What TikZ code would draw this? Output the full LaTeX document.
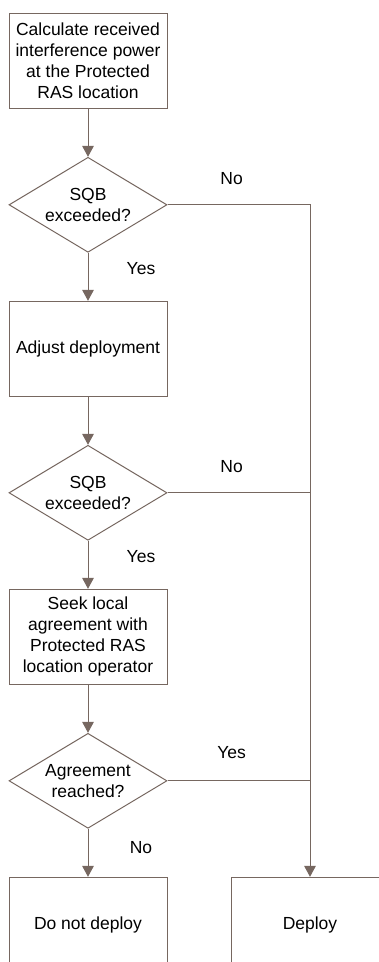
\documentclass[tikz,border=0pt]{standalone}
\usepackage{fontspec}
\setmainfont{Liberation Sans}
\usepackage{tikz}
\usetikzlibrary{shapes,arrows.meta,positioning}
\definecolor{flowgray}{RGB}{118,103,96}

\tikzset{
 procbox/.style={draw=flowgray,line width=1pt,minimum height=95pt,minimum width=158pt,inner sep=0pt,align=center,font=\fontsize{17.5}{21}\selectfont},
 decision/.style={diamond,draw=flowgray,line width=1pt,aspect=1.66,minimum height=95pt,minimum width=158pt,inner sep=0pt,align=center,font=\fontsize{17.5}{21}\selectfont},
 lbl/.style={font=\fontsize{17.5}{21}\selectfont},
 flow/.style={draw=flowgray,line width=1pt,-{Triangle[width=11.7pt,length=11pt]}},
 joinline/.style={draw=flowgray,line width=1pt}
}

\begin{document}
\begin{tikzpicture}[x=1pt,y=1pt,node distance=48pt]
 \useasboundingbox (0,0) rectangle (379,-962);
 \clip (0,0) rectangle (379,-962);
 \node[procbox] (calc) at (88,-60.8) {Calculate received\\interference power\\at the Protected\\RAS location};
 \node[decision,below=of calc] (sqb1) {SQB\\exceeded?};
 \node[procbox,below=of sqb1] (adjust) {Adjust deployment};
 \node[decision,below=of adjust] (sqb2) {SQB\\exceeded?};
 \node[procbox,below=of sqb2] (seek) {Seek local\\agreement with\\Protected RAS\\location operator};
 \node[decision,below=of seek] (agree) {Agreement\\reached?};
 \node[procbox,below=of agree] (nodeploy) {Do not deploy};
 \node[procbox,right=63pt of nodeploy] (deploy) {Deploy};

 \draw[flow] (calc.south) -- (sqb1.north);
 \draw[flow] (sqb1.south) -- node[lbl,pos=0.33,xshift=53pt]{Yes} (adjust.north);
 \draw[flow] (adjust.south) -- (sqb2.north);
 \draw[flow] (sqb2.south) -- node[lbl,pos=0.33,xshift=53pt]{Yes} (seek.north);
 \draw[flow] (seek.south) -- (agree.north);
 \draw[flow] (agree.south) -- node[lbl,pos=0.39,xshift=53pt]{No} (nodeploy.north);
 \draw[flow] (sqb1.east) -| node[lbl,pos=0.225,yshift=26pt]{No} (deploy.north);
 \draw[joinline] (sqb2.east) -- node[lbl,pos=0.45,yshift=26pt]{No} (sqb2.east -| deploy.north);
 \draw[joinline] (agree.east) -- node[lbl,pos=0.45,yshift=28pt]{Yes} (agree.east -| deploy.north);
\end{tikzpicture}
\end{document}
